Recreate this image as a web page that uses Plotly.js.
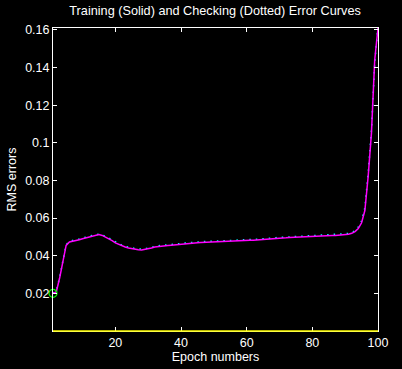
<!DOCTYPE html>
<html>
<head>
<meta charset="utf-8">
<script src="https://cdn.plot.ly/plotly-3.0.1.min.js"></script>
<style>html,body{margin:0;padding:0;background:#000;}#chart{width:402px;height:369px;}</style>
</head>
<body>
<div id="chart"></div>
<script>
// Epoch numbers 1..100
const epochs = [1,2,3,4,5,6,7,8,9,10,11,12,13,14,15,16,17,18,19,20,
21,22,23,24,25,26,27,28,29,30,31,32,33,34,35,36,37,38,39,40,
41,42,43,44,45,46,47,48,49,50,51,52,53,54,55,56,57,58,59,60,
61,62,63,64,65,66,67,68,69,70,71,72,73,74,75,76,77,78,79,80,
81,82,83,84,85,86,87,88,89,90,91,92,93,94,95,96,97,98,99,100];

// Training RMS error (solid)
const trainError = [0.0200,0.0208,0.0280,0.0368,0.0455,0.0473,0.0476,0.0480,0.0485,0.0490,
0.0495,0.0500,0.0505,0.0510,0.0512,0.0508,0.0500,0.0490,0.0480,0.0468,
0.0460,0.0452,0.0446,0.0441,0.0437,0.0434,0.0432,0.0431,0.0433,0.0436,
0.0441,0.0446,0.0449,0.0451,0.0452,0.0454,0.0456,0.0458,0.0460,0.0461,
0.0463,0.0465,0.0467,0.0468,0.0469,0.0470,0.0471,0.0472,0.0472,0.0473,
0.0473,0.0474,0.0475,0.0476,0.0477,0.0478,0.0479,0.0479,0.0480,0.0481,
0.0482,0.0482,0.0483,0.0484,0.0484,0.0486,0.0488,0.0490,0.0492,0.0493,
0.0494,0.0495,0.0497,0.0498,0.0499,0.0500,0.0501,0.0502,0.0503,0.0504,
0.0504,0.0505,0.0505,0.0506,0.0506,0.0507,0.0507,0.0508,0.0510,0.0512,
0.0514,0.0519,0.0528,0.0545,0.0575,0.0640,0.0820,0.1050,0.1440,0.1610];

// Checking RMS error (dotted)
const checkError = [0.0201,0.0212,0.0284,0.0372,0.0458,0.0477,0.0480,0.0484,0.0489,0.0494,
0.0499,0.0504,0.0509,0.0513,0.0514,0.0511,0.0504,0.0494,0.0484,0.0472,
0.0464,0.0456,0.0450,0.0445,0.0441,0.0438,0.0436,0.0435,0.0437,0.0440,
0.0445,0.0450,0.0453,0.0455,0.0456,0.0458,0.0460,0.0462,0.0464,0.0465,
0.0467,0.0469,0.0471,0.0472,0.0473,0.0474,0.0475,0.0476,0.0476,0.0477,
0.0477,0.0478,0.0479,0.0480,0.0481,0.0482,0.0483,0.0483,0.0484,0.0485,
0.0486,0.0486,0.0487,0.0488,0.0488,0.0490,0.0492,0.0494,0.0496,0.0497,
0.0498,0.0499,0.0501,0.0502,0.0503,0.0504,0.0505,0.0506,0.0507,0.0508,
0.0508,0.0509,0.0509,0.0510,0.0510,0.0511,0.0511,0.0512,0.0514,0.0516,
0.0518,0.0523,0.0533,0.0552,0.0585,0.0655,0.0835,0.1065,0.1420,0.1620];

// Minimum checking error marker
const minEpoch = [1];
const minError = [0.0200];

const xTicks = [20,40,60,80,100];
const yTicks = [0.02,0.04,0.06,0.08,0.1,0.12,0.14,0.16];
const yTickText = ['0.02','0.04','0.06','0.08','0.1','0.12','0.14','0.16'];

const fam = 'Liberation Sans, Arial, sans-serif';
const font = {family: fam, size: 12, color: '#ffffff'};

const traces = [
  {x: epochs, y: checkError, type: 'scatter', mode: 'lines',
   line: {color: '#00ffff', width: 1.5, dash: '1.5px,5px'}, hoverinfo: 'skip'},
  {x: epochs, y: trainError, type: 'scatter', mode: 'lines',
   line: {color: '#ff00ff', width: 1.5}, hoverinfo: 'skip'},
  {x: minEpoch, y: minError, type: 'scatter', mode: 'markers',
   marker: {symbol: 'circle-open', size: 8, color: '#00ff00', line: {width: 1.2, color: '#00ff00'}},
   cliponaxis: false, hoverinfo: 'skip'}
];

const layout = {
  width: 402, height: 369,
  paper_bgcolor: '#000000', plot_bgcolor: '#000000',
  margin: {l: 53, r: 24, t: 28, b: 38},
  showlegend: false,
  font: font,
  title: {text: 'Training (Solid) and Checking (Dotted) Error Curves',
          font: {family: fam, size: 12.7, color: '#ffffff'},
          x: 0.535, xanchor: 'center', y: 0.972, yanchor: 'middle'},
  xaxis: {
    range: [1, 100], tickvals: xTicks, ticktext: xTicks.map(String),
    ticks: 'inside', ticklen: 4, tickcolor: '#ffffff',
    showline: true, linecolor: '#ffffff', linewidth: 1, mirror: 'ticks',
    showgrid: false, zeroline: false,
    tickfont: {family: fam, size: 12.5, color: '#ffffff'},
    title: {text: 'Epoch numbers', font: {family: fam, size: 12.5, color: '#ffffff'}, standoff: 2}
  },
  yaxis: {
    range: [0, 0.161], tickvals: yTicks, ticktext: yTickText,
    ticks: 'inside', ticklen: 4, tickcolor: '#ffffff',
    showline: true, linecolor: '#ffffff', linewidth: 1, mirror: 'ticks',
    showgrid: false, zeroline: false,
    tickfont: {family: fam, size: 12.5, color: '#ffffff'},
    title: {text: 'RMS errors', font: {family: fam, size: 12.5, color: '#ffffff'}, standoff: 5}
  },
  shapes: [
    {type: 'line', xref: 'paper', yref: 'paper', x0: 0, x1: 1, y0: 0, y1: 0,
     line: {color: '#ffff00', width: 1.5}, layer: 'above'}
  ]
};

Plotly.newPlot('chart', traces, layout, {staticPlot: true, displayModeBar: false});
</script>
</body>
</html>
